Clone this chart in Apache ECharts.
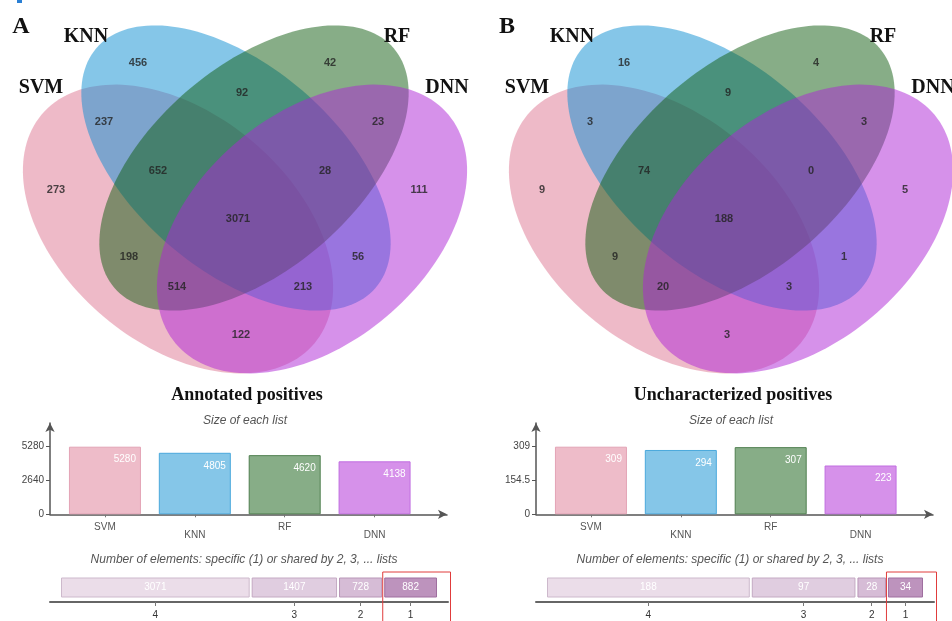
<!DOCTYPE html>
<html>
<head>
<meta charset="utf-8">
<script src="https://cdn.jsdelivr.net/npm/echarts@6/dist/echarts.min.js"></script>
<style>
  html, body { margin: 0; padding: 0; background: #fff; }
  #chart { width: 952px; height: 621px; }
</style>
</head>
<body>
<div id="chart"></div>
<script>
// ---- data ----
var sets = ['SVM', 'KNN', 'RF', 'DNN'];
// venn regions: S=SVM K=KNN R=RF D=DNN
var regions = ['K', 'R', 'KR', 'SK', 'RD', 'SKR', 'KRD', 'S', 'D', 'SKRD', 'SR', 'KD', 'SRD', 'SKD', 'SD'];
var countsA = [456, 42, 92, 237, 23, 652, 28, 273, 111, 3071, 198, 56, 514, 213, 122];
var countsB = [16, 4, 9, 3, 3, 74, 0, 9, 5, 188, 9, 1, 20, 3, 3];
var sizesA = [5280, 4805, 4620, 4138];
var sizesB = [309, 294, 307, 223];
var sizeTicksA = [0, 2640, 5280];
var sizeTicksB = [0, 154.5, 309];
var levels = ['4', '3', '2', '1'];
var levelsA = [3071, 1407, 728, 882];
var levelsB = [188, 97, 28, 34];

// ---- layout (pixel units of one venn panel) ----
var regionPos = [[138, 63], [330, 63], [242, 93], [104, 122], [378, 122], [158, 171], [325, 171],
  [56, 190], [419, 190], [238, 219], [129, 257], [358, 257], [177, 287], [303, 287], [241, 335]];
// cx, cy, semi-major, semi-minor, angle (deg, clockwise)
var ellipses = [
  [178, 229, 178, 115, 40],
  [236, 168, 184, 102, 40.6],
  [254, 168, 184, 102, -40.6],
  [312, 229, 178, 115, -40]
];
var vennFills = ['rgba(221,117,145,0.5)', 'rgba(11,141,209,0.5)', 'rgba(15,91,15,0.5)', 'rgba(173,35,213,0.5)'];
var barFills = ['#eebcc9', '#85c6e8', '#87ad87', '#d691ea'];
var barBorders = ['#e3a3b5', '#4aa8dc', '#4f7f4f', '#c06ee0'];
var levelFills = ['#ebdde9', '#e0cde0', '#d6bcd6', '#bd93bd'];
var levelStrokes = ['#cdb9cc', '#c4aac3', '#b896b7', '#9f6f9f'];

var serif = "'Liberation Serif', 'Times New Roman', serif";
var sans = "'Liberation Sans', Arial, sans-serif";

function ellipseItem(params, api) {
  var e = ellipses[api.value(0)];
  var t = e[4] * Math.PI / 180, ct = Math.cos(t), st = Math.sin(t);
  var pts = [];
  for (var i = 0; i < 160; i++) {
    var u = i / 160 * Math.PI * 2;
    var x = e[0] + e[2] * Math.cos(u) * ct - e[3] * Math.sin(u) * st;
    var y = e[1] + e[2] * Math.cos(u) * st + e[3] * Math.sin(u) * ct;
    pts.push(api.coord([x, y]));
  }
  return { type: 'polygon', shape: { points: pts }, style: { fill: vennFills[api.value(0)] } };
}

function segItem(params, api) {
  var a = api.coord([api.value(0), 0]);
  var b = api.coord([api.value(1), 0]);
  var k = api.value(3), h = 19;
  var cs = params.coordSys;
  var children = [{
    type: 'rect',
    shape: { x: a[0] + 1.5, y: a[1] - h / 2, width: b[0] - a[0] - 3, height: h },
    style: { fill: levelFills[k], stroke: levelStrokes[k], lineWidth: 1 }
  }, {
    type: 'text', x: (a[0] + b[0]) / 2, y: a[1],
    style: { text: String(api.value(2)), fill: '#fff', font: '10px ' + sans, align: 'center', verticalAlign: 'middle' }
  }];
  if (k === levels.length - 1) {
    children.push({
      type: 'rect',
      shape: { x: a[0] - 0.5, y: a[1] - h / 2 - 6, width: cs.x + cs.width + 3 - a[0], height: 60 },
      style: { fill: 'none', stroke: '#e03c3c', lineWidth: 1 }
    });
  }
  return { type: 'group', children: children };
}

var grid = [], xAxis = [], yAxis = [], series = [], title = [];

function addText(text, x, y, style) {
  title.push({ text: text, left: x, top: y, padding: 0, textAlign: 'center', textVerticalAlign: 'middle', textStyle: style });
}

function panel(dx, letter, name, counts, sizes, sizeTicks, levelVals) {
  var g = grid.length;
  var setStyle = { fontFamily: serif, fontWeight: 'bold', fontSize: 20, color: '#111' };

  addText(letter, dx + 21, 27, { fontFamily: serif, fontWeight: 'bold', fontSize: 24, color: '#111' });
  addText(sets[1], dx + 86, 37, setStyle);
  addText(sets[2], dx + 397, 37, setStyle);
  addText(sets[0], dx + 41, 88, setStyle);
  addText(sets[3], dx + 447, 88, setStyle);
  addText(name, dx + 247, 395, { fontFamily: serif, fontWeight: 'bold', fontSize: 18, color: '#111' });
  addText('Size of each list', dx + 245, 421, { fontFamily: sans, fontStyle: 'italic', fontWeight: 'normal', fontSize: 12, color: '#555' });
  addText('Number of elements: specific (1) or shared by 2, 3, ... lists', dx + 244, 560,
    { fontFamily: sans, fontStyle: 'italic', fontWeight: 'normal', fontSize: 12, color: '#555' });

  // venn
  var vw = Math.min(476, 952 - dx);
  grid.push({ left: dx, top: 0, width: vw, height: 380, outerBoundsMode: 'none' });
  xAxis.push({ type: 'value', gridIndex: g, min: 0, max: vw, show: false });
  yAxis.push({ type: 'value', gridIndex: g, min: 0, max: 380, inverse: true, show: false });
  series.push({
    type: 'custom', xAxisIndex: g, yAxisIndex: g, silent: true, z: 1,
    renderItem: ellipseItem,
    data: sets.map(function (s, i) { return [i, 0]; })
  });
  series.push({
    type: 'scatter', xAxisIndex: g, yAxisIndex: g, z: 3, silent: true,
    symbolSize: 1, itemStyle: { color: 'transparent' },
    label: {
      show: true, position: 'inside', color: '#222', fontFamily: sans, fontSize: 11, fontWeight: 'bold',
      formatter: function (p) { return String(p.value[2]); }
    },
    data: regionPos.map(function (p, i) { return [p[0], p[1], counts[i]]; })
  });

  // axis arrows of the size chart
  var arrowAxis = {
    type: 'value', min: 0, max: 1,
    axisLine: { show: true, symbol: ['none', 'arrow'], symbolSize: [7, 9], lineStyle: { color: '#555', width: 1.5 } },
    axisTick: { show: false }, axisLabel: { show: false }, splitLine: { show: false }
  };
  grid.push({ left: dx + 50, top: 423, width: 397, height: 91.3, outerBoundsMode: 'none' });
  xAxis.push(Object.assign({ gridIndex: g + 1 }, arrowAxis));
  yAxis.push(Object.assign({ gridIndex: g + 1 }, arrowAxis));

  // size of each list
  grid.push({ left: dx + 60, top: 446.7, width: 359.5, height: 67.6, outerBoundsMode: 'none' });
  xAxis.push({
    type: 'category', gridIndex: g + 2, data: sets,
    axisLine: { show: false },
    axisTick: { show: true, alignWithLabel: true, length: 3, lineStyle: { color: '#777' } },
    axisLabel: {
      color: '#555', fontFamily: sans, fontSize: 10, margin: 9, lineHeight: 8,
      formatter: function (v, i) { return i % 2 ? '\n' + v : v; }
    }
  });
  yAxis.push({
    type: 'value', gridIndex: g + 2, min: sizeTicks[0], max: sizeTicks[2], interval: sizeTicks[1], offset: 10,
    axisLine: { show: false },
    axisTick: { show: true, length: 4, lineStyle: { color: '#555' } },
    axisLabel: { color: '#444', fontFamily: sans, fontSize: 10, margin: 6, formatter: function (v) { return String(v); } },
    splitLine: { show: false }
  });
  series.push({
    type: 'bar', xAxisIndex: g + 2, yAxisIndex: g + 2, barWidth: 72, silent: true,
    label: { show: true, position: 'insideTopRight', offset: [0, 3], color: '#fff', fontFamily: sans, fontSize: 10 },
    data: sizes.map(function (v, i) {
      return { value: v, itemStyle: { color: barFills[i], borderColor: barBorders[i], borderWidth: 1 } };
    })
  });

  // specific / shared counts
  var total = levelVals.reduce(function (s, v) { return s + v; }, 0);
  var pad = total * 10 / 378;
  var starts = [], mids = [], acc = 0;
  levelVals.forEach(function (v) { starts.push(acc); mids.push(acc + v / 2); acc += v; });
  grid.push({ left: dx + 50, top: 573, width: 398, height: 29, outerBoundsMode: 'none' });
  xAxis.push({
    type: 'value', gridIndex: g + 3, min: -pad, max: total + pad,
    axisLine: { show: true, onZero: false, lineStyle: { color: '#666', width: 2 } },
    axisTick: { show: true, customValues: mids, length: 4, lineStyle: { color: '#777' } },
    axisLabel: {
      show: true, customValues: mids, color: '#333', fontFamily: sans, fontSize: 10, margin: 8,
      formatter: function (v) {
        var best = 0;
        mids.forEach(function (m, i) { if (Math.abs(m - v) < Math.abs(mids[best] - v)) best = i; });
        return levels[best];
      }
    },
    splitLine: { show: false }
  });
  yAxis.push({ type: 'category', gridIndex: g + 3, data: ['lists'], show: false });
  series.push({
    type: 'custom', xAxisIndex: g + 3, yAxisIndex: g + 3, silent: true,
    renderItem: segItem,
    encode: { x: [0, 1], y: 4 },
    data: levelVals.map(function (v, i) { return [starts[i], starts[i] + v, v, i, 0]; })
  });
}

panel(0, 'A', 'Annotated positives', countsA, sizesA, sizeTicksA, levelsA);
panel(486, 'B', 'Uncharacterized positives', countsB, sizesB, sizeTicksB, levelsB);

var chart = echarts.init(document.getElementById('chart'));
chart.setOption({
  backgroundColor: '#fff',
  animation: false,
  title: title,
  grid: grid,
  xAxis: xAxis,
  yAxis: yAxis,
  series: series,
  graphic: [{ type: 'rect', left: 17, top: 0, shape: { width: 5, height: 3 }, style: { fill: '#2a7fd4' } }]
});
</script>
</body>
</html>
